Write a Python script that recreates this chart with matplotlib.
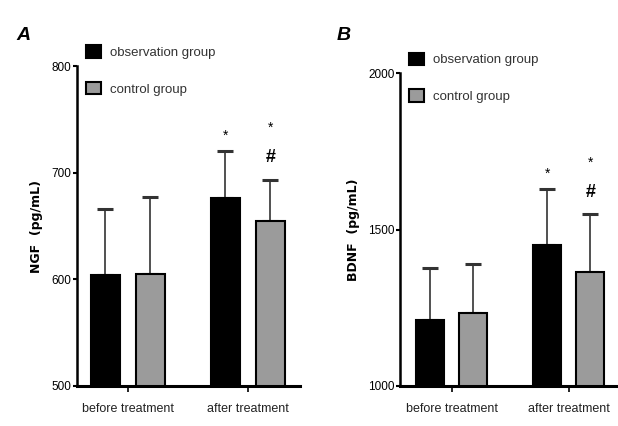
import numpy as np
import matplotlib
matplotlib.use("Agg")
import matplotlib.pyplot as plt
from matplotlib.patches import Patch

plt.rcParams['font.family'] = ['Liberation Sans', 'DejaVu Sans']

# datos
grupos = ["before treatment", "after treatment"]
ngf_obs = [604, 676]
ngf_obs_err = [62, 44]
ngf_ctrl = [605, 655]
ngf_ctrl_err = [72, 38]

bdnf_obs = [1211, 1452]
bdnf_obs_err = [167, 176]
bdnf_ctrl = [1234, 1365]
bdnf_ctrl_err = [157, 183]

gris = "#9b9b9b"

fig = plt.figure(figsize=(6.18, 4.26), dpi=100)
axA = fig.add_axes([0.1246, 0.0939, 0.3604, 0.751])
axB = fig.add_axes([0.6472, 0.0939, 0.3528, 0.7347])


def panel(ax, obs, obs_err, ctrl, ctrl_err, ylim, yticks, ylabel, xlim, off, leg_y):
    x = np.arange(len(grupos))
    w = 0.24
    rng = ylim[1] - ylim[0]
    ax.bar(x - off, obs, w, color="black", edgecolor="black", linewidth=1.5, zorder=2)
    ax.bar(x + off, ctrl, w, color=gris, edgecolor="black", linewidth=1.5, zorder=2)
    ax.errorbar(x - off, obs, yerr=[np.zeros(2), obs_err], fmt="none", ecolor="#333333",
                elinewidth=1.2, capsize=5.5, capthick=2.2, zorder=1)
    ax.errorbar(x + off, ctrl, yerr=[np.zeros(2), ctrl_err], fmt="none", ecolor="#333333",
                elinewidth=1.2, capsize=5.5, capthick=2.2, zorder=1)
    ax.set_ylim(*ylim)
    ax.set_xlim(*xlim)
    ax.set_yticks(yticks)
    ax.set_xticks(x)
    ax.set_xticklabels(grupos, fontsize=9, color="#222222")
    ax.tick_params(axis="y", labelsize=8.5, length=3, width=1.5, pad=1)
    ax.tick_params(axis="x", length=4, width=1.2, pad=8)
    for s in ["top", "right"]:
        ax.spines[s].set_visible(False)
    ax.spines["left"].set_linewidth(1.8)
    ax.spines["bottom"].set_linewidth(2.2)
    ax.set_ylabel(ylabel, fontsize=9, fontweight="bold", family="DejaVu Sans", labelpad=6)
    # marcas de significancia
    ax.text(1 - off, obs[1] + obs_err[1] + rng * 0.05, "*",
            ha="center", va="center", fontsize=10)
    ax.text(1 + off, ctrl[1] + ctrl_err[1] + rng * 0.07, "#",
            ha="center", va="center", fontsize=13, fontweight="bold")
    ax.text(1 + off, ctrl[1] + ctrl_err[1] + rng * 0.165, "*",
            ha="center", va="center", fontsize=10)
    handles = [Patch(facecolor="black", edgecolor="black", linewidth=1.5),
               Patch(facecolor=gris, edgecolor="black", linewidth=1.5)]
    ax.legend(handles, ["observation group", "control group"], loc="upper left",
              bbox_to_anchor=(0.0, leg_y), frameon=False, fontsize=9.5,
              handlelength=1.1, handleheight=1.1, labelspacing=1.75,
              handletextpad=0.7, labelcolor="#333333", borderaxespad=0.3)


panel(axA, ngf_obs, ngf_obs_err, ngf_ctrl, ngf_ctrl_err, (500, 800), [500, 600, 700, 800],
      "NGF  (pg/mL)", (-0.425, 1.433), 0.1875, 1.095)
panel(axB, bdnf_obs, bdnf_obs_err, bdnf_ctrl, bdnf_ctrl_err, (1000, 2000), [1000, 1500, 2000],
      "BDNF  (pg/mL)", (-0.444, 1.42), 0.184, 1.095)

fig.text(0.026, 0.905, "A", fontsize=14, fontweight="bold", style="italic")
fig.text(0.545, 0.905, "B", fontsize=14, fontweight="bold", style="italic")

fig.savefig("out.png", dpi=100)
